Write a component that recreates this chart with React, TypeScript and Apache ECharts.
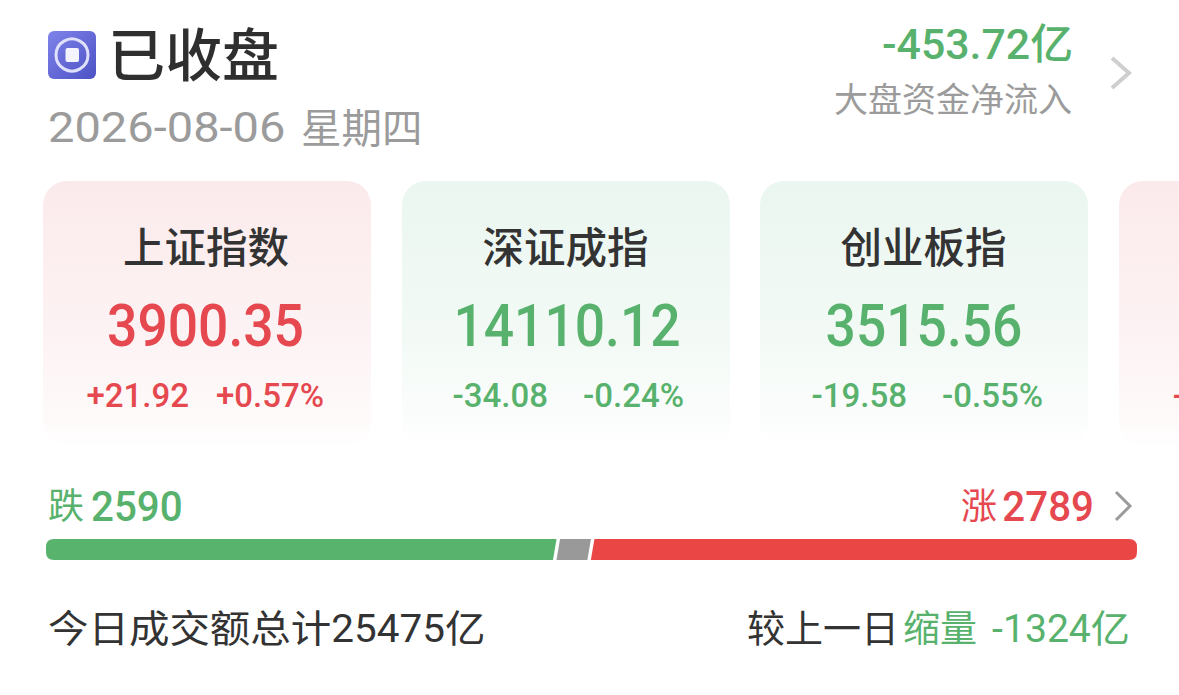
import React, { useEffect, useRef } from "react";
import * as echarts from "echarts";

const WIDTH = 1179;
const HEIGHT = 695;

const statusLabel = "已收盘";
const dateLabel = "2026-08-06";
const weekdayLabel = "星期四";
const flowValue = "-453.72亿";
const flowLabel = "大盘资金净流入";

const indexNames = ["上证指数", "深证成指", "创业板指"];
const indexValues = ["3900.35", "14110.12", "3515.56"];
const indexChanges = ["+21.92", "-34.08", "-19.58"];
const indexPercents = ["+0.57%", "-0.24%", "-0.55%"];
const indexRising = [true, false, false];

const breadthNames = ["跌", "平", "涨"];
const breadthCounts = [2590, 175, 2789];

const turnoverLabel = "今日成交额总计25475亿";
const compareLabel = "较上一日";
const compareWord = "缩量";
const compareValue = "-1324亿";

const RED = "#e5484f";
const GREEN = "#58b26d";
const GRAY = "#9b9b9b";
const DARK = "#333333";
const BAR_RED = "#ea4646";
const BAR_GREEN = "#58b36c";
const BAR_GRAY = "#999999";
const FONT = "Roboto, 'Noto Sans CJK SC', sans-serif";

function txt(
  text: string,
  x: number,
  y: number,
  fontSize: number,
  fill: string,
  align: string = "left",
  fontWeight: number = 400,
  scaleX: number = 1
) {
  return {
    type: "text",
    x,
    y,
    scaleX,
    silent: true,
    style: {
      text,
      fill,
      fontSize,
      fontWeight,
      fontFamily: FONT,
      align,
      textAlign: align,
      verticalAlign: "middle",
      textVerticalAlign: "middle",
    },
  };
}

function chevron(cx: number, top: number, bottom: number, w: number, stroke: string, lineWidth: number) {
  return {
    type: "polyline",
    silent: true,
    shape: {
      points: [
        [cx, top],
        [cx + w, (top + bottom) / 2],
        [cx, bottom],
      ],
    },
    style: { stroke, lineWidth, fill: "none" },
  };
}

function cardRect(x: number, rising: boolean) {
  return {
    type: "rect",
    silent: true,
    shape: { x, y: 181, width: 328, height: 266, r: 24 },
    style: {
      fill: new echarts.graphic.LinearGradient(0, 0, 0, 1, [
        { offset: 0, color: rising ? "#fbeaeb" : "#ebf6f0" },
        { offset: 0.6, color: rising ? "#fdf3f4" : "#f3faf6" },
        { offset: 0.9, color: rising ? "#fefafa" : "#fbfdfc" },
        { offset: 1, color: "#ffffff" },
      ]),
    },
  };
}

function buildGraphics() {
  const items: any[] = [];

  // status icon
  items.push({
    type: "rect",
    silent: true,
    shape: { x: 48, y: 31, width: 48, height: 48, r: 6 },
    style: {
      fill: new echarts.graphic.LinearGradient(0, 0, 1, 1, [
        { offset: 0, color: "#7f82ea" },
        { offset: 1, color: "#4c52c4" },
      ]),
    },
  });
  items.push({
    type: "circle",
    silent: true,
    shape: { cx: 72, cy: 55, r: 16 },
    style: { fill: "none", stroke: "#dfe0fa", lineWidth: 3 },
  });
  items.push({
    type: "rect",
    silent: true,
    shape: { x: 65.5, y: 48, width: 13.5, height: 14, r: 2 },
    style: { fill: "#f4f4ff" },
  });

  items.push(txt(statusLabel, 108, 56, 57, "#2f2f2f", "left", 500));
  items.push(txt(dateLabel, 48, 128, 42, GRAY, "left", 400, 1.12));
  items.push(txt(weekdayLabel, 301, 129, 40.5, GRAY, "left", 400));

  items.push(txt(flowValue, 1073, 45, 42, GREEN, "right", 500, 1.02));
  items.push(txt(flowLabel, 1072, 100, 34, GRAY, "right", 400));
  items.push(chevron(1112, 58, 88, 17, "#cfcfcf", 4));

  // index cards
  const cardX = [43, 402, 760];
  const valueCenters = [205.5, 567, 924];
  const titleCenters = [206, 565.5, 923.5];
  const changeRights = [189, 548, 907];
  const percentRights = [324, 684, 1043];
  indexNames.forEach((name, i) => {
    const rising = indexRising[i];
    const color = rising ? RED : GREEN;
    items.push(cardRect(cardX[i], rising));
    items.push(txt(name, titleCenters[i], 248, 41.5, DARK, "center", 500));
    items.push(txt(indexValues[i], valueCenters[i], 325, 60, color, "center", 500, 0.89));
    items.push(txt(indexChanges[i], changeRights[i], 395, 33, color, "right", 500));
    items.push(txt(indexPercents[i], percentRights[i], 395, 33, color, "right", 500));
  });
  items.push(cardRect(1119, true));
  items.push(txt("+", 1173, 396, 32, RED, "left", 500));

  // breadth labels
  items.push(txt(breadthNames[0], 48, 507, 36, GREEN));
  items.push(txt(String(breadthCounts[0]), 91, 507, 42, GREEN, "left", 500, 0.96));
  items.push(txt(breadthNames[2], 961, 507, 36, RED));
  items.push(txt(String(breadthCounts[2]), 1094, 507, 42, RED, "right", 500, 0.96));
  items.push(chevron(1116, 492, 520, 14, GRAY, 3));

  // footer
  items.push(txt(turnoverLabel, 48, 629, 38, DARK, "left", 400, 1.065));
  items.push(txt(compareValue, 1130, 629, 38, GREEN, "right", 400, 1.03));
  items.push(txt(compareWord, 903, 629, 37, GREEN));
  items.push(txt(compareLabel, 747, 629, 38, DARK));

  return items;
}

function buildBarData() {
  let acc = 0;
  return breadthCounts.map((count, i) => {
    const start = acc;
    acc += count;
    return [start, acc, i];
  });
}

const barColors = [BAR_GREEN, BAR_GRAY, BAR_RED];

function renderSegment(params: any, api: any) {
  const index = api.value(2);
  const y = params.coordSys.y;
  const h = params.coordSys.height;
  const slant = 1.8;
  const gap = index === 0 ? 0 : 3.5;
  const x0 = api.coord([api.value(0), 0])[0] + gap;
  const x1 = api.coord([api.value(1), 0])[0];
  const r = 8;
  const b = y + h;
  let d = "";
  let minX = x0 - slant;
  let maxX = x1 + slant;
  if (index === 0) {
    minX = x0;
    d =
      `M${x0 + r} ${y}L${x1 + slant} ${y}L${x1 - slant} ${b}L${x0 + r} ${b}` +
      `Q${x0} ${b} ${x0} ${b - r}L${x0} ${y + r}Q${x0} ${y} ${x0 + r} ${y}Z`;
  } else if (index === breadthCounts.length - 1) {
    maxX = x1;
    d =
      `M${x0 + slant} ${y}L${x1 - r} ${y}Q${x1} ${y} ${x1} ${y + r}L${x1} ${b - r}` +
      `Q${x1} ${b} ${x1 - r} ${b}L${x0 - slant} ${b}Z`;
  } else {
    d = `M${x0 + slant} ${y}L${x1 + slant} ${y}L${x1 - slant} ${b}L${x0 - slant} ${b}Z`;
  }
  return {
    type: "path",
    shape: { pathData: d, layout: "cover", x: minX, y, width: maxX - minX, height: h },
    style: { fill: barColors[index] },
  };
}

export default function App() {
  const ref = useRef<HTMLDivElement>(null);

  useEffect(() => {
    document.body.style.margin = "0";
    const chart = echarts.init(ref.current!, null, { renderer: "svg" });
    const total = breadthCounts.reduce((a, b) => a + b, 0);
    chart.setOption({
      animation: false,
      backgroundColor: "#ffffff",
      textStyle: { fontFamily: FONT },
      grid: { left: 46, top: 539, width: 1091, height: 21 },
      xAxis: { type: "value", min: 0, max: total, show: false },
      yAxis: { type: "value", min: 0, max: 1, show: false },
      graphic: { elements: buildGraphics() },
      series: [
        {
          type: "custom",
          coordinateSystem: "cartesian2d",
          silent: true,
          clip: false,
          renderItem: renderSegment,
          encode: { x: [0, 1] },
          data: buildBarData(),
        },
      ],
    });
    return () => chart.dispose();
  }, []);

  return <div ref={ref} style={{ width: WIDTH, height: HEIGHT, background: "#fff" }} />;
}
